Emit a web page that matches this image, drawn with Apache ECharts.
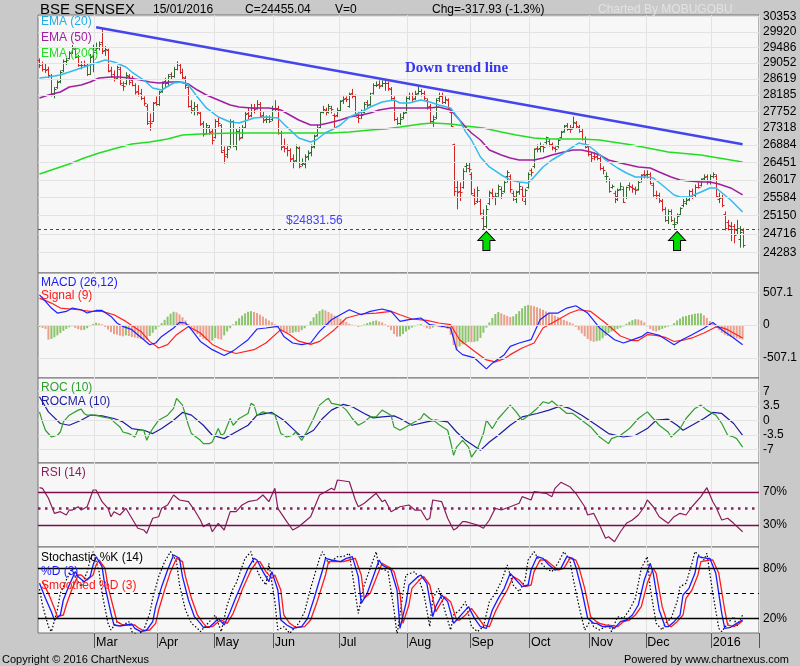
<!DOCTYPE html>
<html><head><meta charset="utf-8">
<script src="https://cdn.jsdelivr.net/npm/echarts/dist/echarts.min.js"></script>
<style>html,body{margin:0;padding:0;background:#c9c9c9;}#c{width:800px;height:666px;}</style>
</head><body><div id="c"></div>
<script>
// ---------- DATA ----------
const barSlots = 242;
const monthStarts = [19, 40, 59, 79, 101, 124, 145, 165, 185, 204, 226];
const monthLabels = ['Mar','Apr','May','Jun','Jul','Aug','Sep','Oct','Nov','Dec','2016'];

// daily bars: [open, high, low, close]
const ohlc = [
[29130,29180,28920,29000],[29040,29090,28820,28883],[28900,29050,28780,28850],[28890,28950,28640,28718],[28700,28750,28150,28227],
[28200,28400,28100,28355],[28400,28580,28350,28533],[28560,28850,28500,28805],[28850,29150,28800,29095],[29100,29200,29000,29135],
[29180,29380,29150,29320],[29350,29550,29300,29463],[29450,29500,29180,29231],[29250,29280,28950,29009],[29000,29100,28880,29004],
[29050,29120,28950,29008],[29000,29040,28700,28747],[28760,29300,28730,29220],[29250,29560,28800,29361],
[29400,29620,29300,29459],[29500,29650,29400,29593],[29640,30024,29300,29380],[29400,29520,29250,29448],[29400,29450,28800,28845],
[28850,28950,28650,28709],[28750,28850,28550,28623],[28650,28980,28600,28930],[28900,28950,28450,28504],[28450,28550,28300,28437],
[28500,28800,28450,28736],[28700,28750,28450,28542],[28600,28700,28420,28468],[28450,28500,28200,28262],[28300,28450,28150,28193],
[28250,28350,28050,28112],[28100,28150,27900,27975],[27900,27950,27400,27458],[27500,27700,27250,27458],[27500,28000,27480,27976],
[28000,28150,27900,27957],
[27960,28300,27900,28260],[28300,28550,28250,28504],[28550,28650,28400,28516],[28500,28750,28420,28707],[28750,28800,28600,28708],
[28700,28950,28650,28879],[28900,29100,28850,29044],[29000,29050,28750,28800],[28800,28900,28600,28666],[28650,28700,28350,28442],
[28400,28420,27850,27887],[27900,28050,27700,27800],[27850,28000,27650,27890],[27900,27950,27650,27735],[27700,27750,27380,27438],
[27450,27500,27100,27176],[27200,27450,27150,27396],[27350,27400,27150,27225],[27250,27300,26900,27011],
[27100,27550,27050,27491],[27500,27600,27350,27440],[27400,27420,26680,26718],[26750,26850,26420,26599],[26650,26850,26550,26790],
[26850,27550,26800,27507],[27500,27520,26830,26877],[26850,27300,26750,27251],[27250,27350,27000,27070],[27100,27400,27050,27324],
[27350,27750,27300,27687],[27700,27850,27550,27646],[27650,27950,27600,27837],[27850,27950,27700,27809],[27850,28050,27800,27957],
[27950,28000,27600,27644],[27650,27750,27450,27531],[27550,27650,27450,27564],[27550,27650,27450,27507],[27550,27900,27500,27828],
[27850,28050,27750,27849],[27850,27900,27150,27188],[27200,27250,26750,26837],[26850,27050,26700,26814],[26800,26900,26600,26768],
[26750,26800,26450,26523],[26550,26650,26300,26481],[26500,26900,26450,26841],[26800,26850,26300,26370],[26400,26550,26350,26425],
[26400,26650,26300,26587],[26600,26750,26500,26687],[26700,26900,26600,26832],[26850,27150,26800,27116],[27150,27400,27100,27316],
[27350,27750,27300,27731],[27750,27900,27700,27805],[27800,27850,27650,27729],[27750,27950,27700,27895],[27850,27900,27700,27812],
[27650,27700,27300,27645],[27650,27850,27600,27781],
[27800,28050,27750,28020],[28050,28150,27950,28092],[28100,28150,28000,28092],[27900,28250,27850,28208],[28250,28350,28100,28171],
[28150,28200,27650,27688],[27600,27750,27450,27573],[27650,27800,27550,27661],[27750,28000,27700,27961],[28000,28050,27850,27933],
[27950,28250,27900,28198],[28250,28500,28200,28446],[28450,28550,28400,28463],[28480,28580,28350,28420],[28450,28580,28400,28504],
[28500,28600,28300,28505],[28500,28550,28300,28371],[28350,28400,28050,28112],[28100,28150,27500,27561],[27550,27600,27400,27459],
[27450,27700,27400,27564],[27600,27750,27550,27705],[27750,28150,27700,28115],
[28100,28250,28050,28187],[28200,28250,28000,28071],[28100,28300,28050,28223],[28250,28420,28200,28298],[28300,28350,28150,28236],
[28250,28300,28050,28101],[28050,28100,27800,27866],[27900,27950,27450,27512],[27500,27650,27350,27549],[27600,28100,27550,28067],
[28100,28250,28000,28159],[28150,28250,27950,28005],[28000,28150,27950,28071],[28050,28100,27800,27832],[27750,27800,27350,27366],
[26900,26920,25620,25742],[25850,26000,25300,25715],[25750,25950,25500,25714],[25850,26300,25800,26231],[26350,26450,26200,26392],
[26300,26450,26200,26283],
[26150,26200,25650,25697],[25650,25800,25400,25453],[25500,25850,25450,25765],[25500,25550,25150,25202],[25100,25300,24830,24894],
[24900,25400,24850,25318],[25450,25750,25400,25719],[25700,25800,25550,25623],[25600,25700,25400,25610],[25700,25900,25600,25856],
[25800,25850,25550,25705],[25750,26000,25700,25964],[26100,26250,25950,26219],[26100,26150,25700,25779],[25700,25750,25500,25616],
[25550,25750,25450,25706],[25750,25950,25650,25864],[25800,25850,25500,25617],[25500,25800,25400,25778],[25850,26200,25800,26155],
[26250,26300,26100,26221],[26350,26800,26300,26777],[26800,26900,26700,26790],[26800,26950,26700,26865],[26850,26900,26700,26846],
[26950,27100,26900,27080],[27000,27050,26850,26906],[26900,26950,26750,26846],[26800,26850,26700,26779],[26850,27050,26800,27010],
[27100,27250,27050,27214],[27250,27400,27200,27364],[27400,27450,27250,27306],[27300,27400,27200,27288],[27350,27620,27300,27471],
[27450,27500,27300,27362],[27350,27400,27200,27253],[27250,27300,27000,27040],[27050,27100,26800,26838],[26850,26900,26600,26657],
[26650,26700,26450,26559],[26600,26700,26500,26590],[26600,26700,26500,26552],[26550,26600,26250,26304],[26300,26350,26150,26265],
[26100,26200,25950,26121],[26000,26050,25700,25743],[25850,25900,25800,25867],[25700,25750,25450,25611],[25550,25800,25500,25760],
[25800,25950,25750,25864],[25800,25850,25450,25482],[25600,25850,25550,25842],[25900,25950,25750,25868],[25850,25900,25700,25819],
[25800,25850,25650,25775],[25800,26000,25750,25959],[26000,26150,25950,26128],[26150,26250,26050,26146],
[26150,26250,26050,26169],[26150,26200,25900,25932],[25900,25950,25600,25638],[25650,25750,25550,25638],[25650,25700,25450,25530],
[25500,25550,25250,25310],[25300,25350,25000,25036],[25050,25300,24950,25252],[25250,25300,25000,25044],[24950,25100,24850,24952],
[25000,25200,24950,25150],[25200,25350,25150,25320],[25400,25550,25350,25494],[25450,25600,25400,25519],[25550,25770,25500,25735],
[25750,25800,25550,25590],[25650,25900,25600,25850],[25850,25950,25800,25839],[25900,26050,25850,26034],[26050,26150,26000,26080],
[26100,26150,25900,25960],[25950,26150,25900,26118],
[26100,26200,26050,26161],[26100,26150,25600,25624],[25550,25700,25450,25580],[25600,25650,25350,25406],[25200,25250,24800,24852],
[25000,25050,24800,24934],[24900,25000,24550,24825],[24900,24950,24500,24683],[24800,25050,24700,24854],[24600,24900,24400,24773],
[24800,24850,24400,24455]
];

// [bar index, value] samples
const ema20 = [[0,28644],[3,28672],[7,28726],[10,28807],[14,28917],[17,28999],[20,29081],[22,29136],[25,29081],[29,28944],[31,28807],[35,28590],[38,28375],[41,28321],[45,28509],[48,28536],[50,28455],[53,28135],[56,27844],[60,27608],[64,27477],[67,27452],[72,27582],[76,27608],[80,27582],[83,27350],[87,27065],[91,26963],[93,27020],[96,27200],[98,27270],[101,27400],[104,27608],[108,27738],[111,27870],[115,28002],[119,28055],[121,27976],[124,27976],[128,28055],[131,28002],[134,27923],[138,27844],[141,27529],[143,27230],[145,27014],[148,26583],[151,26333],[155,26135],[158,26012],[161,25963],[164,25938],[166,26086],[169,26333],[172,26508],[176,26684],[179,26836],[181,26937],[184,26886],[187,26709],[190,26508],[194,26308],[197,26184],[200,26086],[204,26086],[206,26061],[209,25889],[213,25646],[215,25597],[218,25597],[222,25719],[225,25816],[227,25816],[228,25760],[232,25525],[236,25237]];
const ema50 = [[0,28108],[3,28188],[7,28268],[10,28402],[14,28455],[17,28536],[20,28644],[24,28672],[27,28672],[30,28644],[34,28590],[37,28536],[40,28509],[44,28536],[47,28536],[50,28482],[53,28321],[56,28188],[60,28055],[64,27923],[67,27870],[71,27844],[74,27844],[77,27844],[81,27791],[84,27660],[87,27529],[91,27400],[94,27400],[97,27452],[101,27529],[104,27608],[108,27660],[111,27712],[114,27791],[118,27844],[121,27844],[124,27844],[128,27844],[131,27844],[134,27870],[138,27791],[141,27529],[143,27348],[145,27193],[148,27014],[151,26760],[155,26634],[158,26558],[161,26508],[164,26508],[166,26508],[169,26558],[172,26634],[176,26709],[179,26760],[182,26760],[185,26709],[188,26634],[191,26508],[195,26433],[198,26383],[201,26333],[205,26308],[208,26209],[212,26086],[215,26012],[218,25987],[222,25963],[225,25963],[228,25914],[232,25816],[236,25646]];
const ema200 = [[0,26159],[4,26259],[10,26408],[15,26558],[20,26684],[26,26810],[31,26912],[37,26963],[43,27039],[48,27142],[54,27168],[65,27193],[74,27193],[80,27193],[87,27193],[93,27193],[98,27193],[104,27219],[111,27270],[116,27296],[121,27348],[128,27426],[132,27452],[138,27426],[143,27374],[149,27322],[155,27219],[160,27142],[166,27065],[171,27039],[177,27039],[182,27039],[188,27014],[199,26886],[211,26709],[222,26634],[236,26458]];
const trendLine = [[19,30050],[236,26905]];
const supportLevel = 24831.56;
const arrowMarks = [[150,24555],[214,24555]];

const macdLine = [[0,467],[2,364],[4,262],[6,185],[9,210],[11,262],[14,236],[16,185],[19,225],[21,225],[24,133],[26,31],[28,-22],[31,-72],[35,-227],[37,-304],[39,-278],[41,-176],[45,-46],[47,40],[49,31],[51,-72],[54,-253],[58,-381],[62,-470],[65,-400],[70,-227],[73,-62],[76,-46],[80,-22],[82,-176],[85,-278],[88,-304],[91,-278],[94,-99],[98,82],[101,159],[104,236],[108,159],[111,210],[115,247],[118,210],[121,56],[124,82],[128,108],[131,5],[134,-11],[138,-46],[140,-381],[142,-458],[146,-509],[150,-678],[152,-590],[156,-458],[158,-330],[161,-278],[165,-227],[168,82],[171,185],[174,185],[177,262],[180,298],[184,185],[188,-46],[193,-227],[196,-278],[199,-230],[202,-180],[204,-115],[206,-135],[208,-160],[213,-304],[216,-220],[219,-150],[223,-50],[226,40],[229,-72],[233,-200],[236,-304]];
const signalLine = [[0,416],[4,339],[7,262],[13,236],[17,210],[21,210],[25,159],[29,56],[34,-99],[37,-253],[40,-355],[43,-304],[46,-150],[50,-22],[54,-123],[58,-300],[62,-390],[66,-440],[72,-381],[76,-278],[81,-72],[84,-150],[87,-250],[91,-300],[94,-253],[99,-72],[103,108],[108,170],[113,185],[118,210],[121,159],[125,93],[130,71],[134,31],[138,5],[141,-227],[146,-407],[150,-540],[153,-570],[156,-520],[158,-458],[162,-355],[166,-278],[169,-46],[174,82],[178,185],[181,236],[185,210],[190,31],[195,-170],[199,-240],[201,-240],[204,-150],[207,-160],[210,-190],[213,-255],[216,-235],[219,-200],[223,-123],[227,-31],[229,-40],[231,-72],[236,-200]];
const macdHist = [
-30,-45,-60,-225,-215,-190,-160,-125,-90,-60,-35,-20,-45,-65,-80,-75,-50,-20,15,35,
25,10,-30,-70,-110,-140,-150,-165,-175,-160,-170,-185,-195,-205,-215,-225,-230,-170,-120,-70,
-25,30,80,130,175,205,195,165,120,70,20,-40,-95,-140,-185,-215,-235,-245,-240,-200,
-215,-225,-160,-100,-50,10,60,105,145,180,205,215,200,185,160,130,100,70,45,10,
-40,-80,-105,-120,-125,-120,-105,-110,-80,-50,0,60,120,175,215,240,225,200,175,145,
120,95,70,45,20,5,-15,-30,-20,10,30,45,60,70,55,40,10,-30,-80,-140,
-180,-175,-140,-100,-70,-40,-20,5,15,-20,-50,-60,-40,-20,-30,-40,-25,-60,-150,-310,
-390,-330,-300,-280,-260,-265,-260,-250,-200,-120,-40,40,110,170,200,180,160,140,125,135,
170,215,260,295,310,300,290,275,255,235,210,185,165,145,125,100,80,60,40,20,
-30,-80,-130,-175,-215,-245,-260,-250,-240,-205,-165,-125,-100,-80,-60,-40,-20,20,50,75,
90,85,70,40,-20,-60,-90,-100,-80,-60,-40,-25,-10,30,70,100,130,140,155,165,
175,180,182,150,110,60,15,-40,-80,-120,-150,-170,-185,-195,-205,-215,-225
];

const roc = [[0,2.10],[1,-0.34],[2,-2.37],[4,-4.01],[6,-3.59],[7,-2.79],[8,-0.34],[10,1.30],[11,1.71],[13,2.52],[14,2.76],[15,1.71],[16,1.30],[19,1.30],[21,0.88],[24,0.49],[25,-0.34],[27,-1.56],[28,-2.79],[30,-3.18],[32,-4.01],[33,-2.37],[35,-2.37],[36,-4.82],[37,-3.18],[38,-1.96],[40,0.07],[43,1.30],[45,2.93],[46,5.38],[48,3.74],[49,1.30],[50,-1.15],[51,-3.18],[54,-4.82],[55,-5.62],[57,-5.62],[58,-5.23],[60,-1.96],[61,-3.59],[62,-3.18],[64,0.49],[65,-1.15],[67,0.49],[70,1.71],[71,4.16],[72,3.74],[73,1.30],[75,2.10],[77,1.71],[79,1.47],[81,-3.18],[83,-4.01],[85,-3.59],[86,-2.79],[88,-4.82],[90,-2.37],[92,0.49],[94,3.74],[96,4.96],[97,5.38],[98,4.16],[101,3.74],[103,2.52],[105,0.49],[107,-1.15],[109,-0.34],[111,0.88],[113,0.88],[115,2.52],[118,1.30],[119,-1.56],[121,-2.37],[123,-1.56],[125,-0.73],[128,0.49],[129,1.71],[131,0.49],[133,-0.34],[134,-0.98],[137,-2.37],[138,-5.23],[139,-8.48],[140,-6.45],[142,-4.82],[144,-6.45],[145,-8.90],[147,-6.85],[149,-3.18],[150,0.07],[152,-1.96],[154,0.49],[156,2.10],[158,3.74],[160,2.10],[162,0.07],[165,1.71],[167,2.93],[169,4.55],[171,4.16],[172,4.72],[175,2.93],[177,1.71],[179,1.71],[182,0.07],[185,-1.56],[188,-4.01],[191,-5.62],[192,-4.40],[195,-3.59],[198,-1.96],[201,0.49],[204,2.10],[206,0.49],[208,-1.15],[211,-2.79],[212,-4.01],[215,-1.96],[217,0.49],[220,2.93],[222,3.74],[224,2.52],[227,1.30],[229,-0.73],[231,-3.59],[233,-4.01],[234,-4.40],[236,-6.45]];
const rocma = [[0,5.77],[3,2.10],[7,-0.73],[10,-1.15],[14,0.07],[17,1.30],[21,1.12],[25,0.49],[28,-0.34],[31,-1.96],[35,-2.37],[38,-3.18],[41,-1.96],[45,0.07],[48,1.96],[51,1.30],[55,-1.15],[58,-3.59],[62,-4.40],[65,-3.18],[70,-1.15],[73,1.30],[78,1.96],[82,0.07],[85,-1.96],[88,-4.01],[92,-2.37],[95,0.49],[98,2.52],[102,3.91],[105,3.33],[109,1.71],[112,0.64],[115,0.88],[119,1.12],[121,0.49],[125,-1.15],[130,-0.34],[133,0.07],[137,-0.34],[140,-2.79],[143,-4.82],[148,-7.26],[151,-5.23],[154,-3.59],[158,-1.15],[162,0.88],[167,1.71],[171,2.52],[175,3.57],[178,2.93],[182,1.30],[187,-1.15],[191,-3.18],[196,-4.01],[200,-3.59],[204,-1.96],[207,0.07],[211,0.32],[214,-1.15],[216,-2.37],[219,-1.15],[223,0.49],[226,1.96],[229,1.71],[233,-0.73],[236,-3.59]];

const rsi = [[0,75],[1,74.2],[3,62.1],[5,43.9],[7,45.9],[9,41.9],[10,47.9],[11,47.9],[13,51.9],[14,47.9],[16,51.9],[18,72.2],[19,72.2],[21,58],[23,50],[24,39.8],[25,45.9],[27,41.9],[29,50],[31,37.9],[33,25.8],[35,23.7],[36,19.7],[38,37.9],[40,39.8],[41,50],[43,54],[45,66.1],[47,60.1],[50,58],[52,47.9],[54,35.8],[55,27.7],[57,31.8],[58,21.6],[60,31.8],[62,23.7],[64,45.9],[66,45.9],[68,54],[70,58],[73,60.1],[75,66.1],[77,58],[79,74.2],[80,50],[83,33.8],[85,23.7],[87,27.7],[89,33.8],[91,39.8],[94,66.1],[96,70.1],[98,74.2],[99,72.2],[100,84.3],[104,82.2],[106,60.1],[107,51.9],[109,56.1],[113,68.2],[115,58],[116,60.1],[118,45.9],[121,51.9],[124,54],[126,47.9],[128,47.9],[130,35.8],[131,37.9],[132,60.1],[135,58],[137,37.9],[139,23.7],[140,25.8],[142,33.8],[143,33.8],[147,29.8],[149,25.8],[151,35.8],[153,50],[155,47.9],[158,51.9],[161,56.1],[162,64.1],[165,60.1],[166,70.1],[170,68.2],[172,64.1],[173,74.2],[175,81.5],[178,76.2],[180,68.2],[183,51.9],[184,41.9],[186,43.9],[188,29.8],[190,13.6],[191,15.6],[193,9.5],[195,21.6],[197,31.8],[199,35.8],[201,41.9],[203,51.9],[204,60.1],[206,51.9],[208,39.8],[211,31.8],[213,39.8],[215,43.9],[217,41.9],[219,51.9],[222,64.1],[224,75],[226,58],[227,51.9],[229,35.8],[231,37.9],[233,31.8],[236,21.6]];

const stochK = [[0,55],[1,36],[3,10],[4,4],[6,30],[7,50],[9,66],[11,80],[12,70],[14,58],[16,76],[17,90],[18,100],[20,76],[21,50],[23,14],[24,6],[26,16],[28,12],[30,16],[31,4],[33,0],[35,6],[37,26],[38,44],[40,70],[42,88],[44,100],[46,88],[47,60],[49,30],[51,14],[53,8],[54,4],[56,12],[58,20],[59,24],[61,4],[63,36],[65,56],[66,62],[69,92],[71,100],[72,86],[74,70],[76,60],[77,86],[79,40],[80,6],[82,10],[84,2],[87,14],[89,28],[91,56],[94,92],[95,100],[97,86],[100,94],[102,94],[104,98],[106,50],[107,26],[109,60],[111,80],[113,100],[114,80],[116,78],[117,76],[119,30],[120,0],[122,50],[123,72],[126,76],[127,70],[129,50],[131,10],[132,44],[134,56],[136,30],[138,6],[139,24],[141,30],[143,40],[145,10],[147,4],[149,10],[151,40],[153,50],[155,64],[157,84],[159,60],[161,52],[163,66],[164,90],[166,100],[168,88],[170,80],[172,76],[174,86],[176,100],[178,90],[179,70],[181,36],[183,6],[185,18],[186,10],[188,6],[191,12],[192,4],[194,22],[196,20],[198,30],[200,44],[202,80],[204,94],[205,56],[207,14],[209,6],[210,14],[212,20],[214,40],[215,58],[217,62],[219,86],[220,100],[223,90],[224,98],[226,50],[228,8],[229,4],[231,14],[233,22],[234,10],[236,24]];
const stochD = [[0,62],[2,44],[4,28],[5,18],[7,24],[8,42],[10,60],[12,76],[13,70],[15,64],[17,70],[18,84],[19,94],[21,82],[22,58],[24,26],[25,12],[27,10.8],[29,12],[31,13.2],[32,8],[34,4],[36,6],[38,16],[39,34],[41,58],[43,78],[45,96],[47,92],[48,70],[50,42],[52,22],[54,14],[55,9.2],[57,9.2],[59,16],[60,20],[62,12],[64,28],[66,46],[67,54],[70,80],[72,92],[73,90],[75,76],[77,64],[78,76],[80,54],[81,18],[83,12],[85,8],[88,10],[90,20],[92,42],[95,78],[96,92],[98,90],[101,88],[103,92],[105,94],[107,70],[108,38],[110,50],[112,70],[114,90],[115,84],[117,80],[118,78],[120,54],[121,8],[123,38],[124,60],[127,70],[128,72],[130,62],[132,22],[133,34],[135,48],[137,40],[139,14],[140,18],[142,26],[144,34],[146,20],[148,10],[150,8],[152,30],[154,44],[156,56],[158,74],[160,66],[162,58],[164,60],[165,78],[167,94],[169,92],[171,84],[173,78],[175,80],[177,94],[179,92],[180,82],[182,54],[184,20],[186,14],[187,14],[189,10],[192,10],[193,8],[195,16],[197,18],[199,24],[201,36],[203,66],[205,86],[206,74],[208,30],[210,10],[211,10],[213,16],[215,24],[216,48],[218,56],[220,74],[221,94],[224,92],[225,92],[227,74],[229,26],[230,8],[232,9.2],[234,14],[236,18]];
const stochSD = [[1,64],[3,50],[5,32],[6,22],[8,24],[9,36],[11,56],[13,72],[14,72],[16,66],[18,72],[19,84],[20,90],[22,80],[23,58],[25,30],[26,16],[28,12],[30,12],[32,12],[33,9],[35,5],[37,6],[39,14],[40,30],[42,54],[44,76],[46,92],[48,88],[49,70],[51,44],[53,24],[55,14],[56,10],[58,10],[60,16],[61,18],[63,14],[65,26],[67,44],[68,54],[71,78],[73,88],[74,88],[76,76],[78,68],[79,72],[81,54],[82,24],[84,14],[86,9],[89,10],[91,18],[93,38],[96,72],[97,88],[99,88],[102,88],[104,90],[106,92],[108,72],[109,44],[111,50],[113,68],[115,86],[116,84],[118,80],[119,76],[121,50],[122,14],[124,36],[125,56],[128,68],[129,70],[131,60],[133,28],[134,34],[136,46],[138,40],[140,18],[141,18],[143,24],[145,32],[147,22],[149,12],[151,10],[153,28],[155,42],[157,54],[159,70],[161,66],[163,58],[165,60],[166,76],[168,90],[170,90],[172,84],[174,78],[176,80],[178,92],[180,90],[181,82],[183,56],[185,22],[187,16],[188,14],[190,12],[193,11],[194,10],[196,16],[198,18],[200,24],[202,34],[204,62],[206,80],[207,74],[209,34],[211,12],[212,10],[214,16],[216,24],[217,44],[219,54],[221,72],[222,88],[225,90],[226,90],[228,74],[230,30],[231,12],[233,10],[235,14],[236,17]];

// axis tick values and their labels
const priceTickValues = [24282.7,24716.3,25149.9,25583.5,26017.1,26450.7,26884.3,27317.9,27751.5,28185.1,28618.7,29052.3,29485.9,29919.5,30353.1];
const priceTickLabels = ['24283','24716','25150','25584','26017','26451','26884','27318','27752','28185','28619','29052','29486','29920','30353'];
const volTickValues = [24282.7,24716.3,25149.9,25583.5,26017.1,26450.7];
const volTickLabels = ['0.2','0.3','0.5','0.6','0.8','1.0'];
const macdTicks = [507.1, 0, -507.1];
const macdTickLabels = ['507.1','0','-507.1'];
const rocTicks = [7, 3.5, 0, -3.5, -7];
const rocTickLabels = ['7','3.5','0','-3.5','-7'];
const rsiLevels = [70, 30];
const rsiLevelLabels = ['70%','30%'];
const stochLevels = [80, 20];
const stochLevelLabels = ['80%','20%'];

// ---------- CHART ----------
const FONT = '"Liberation Sans", Arial, sans-serif';
const GREEN = '#2f6a2f', RED = '#d42424';
const GRIDC = '#e3e3e3';
const chart = echarts.init(document.getElementById('c'), null, {renderer: 'canvas'});
const categories = Array.from({length: barSlots}, (_, i) => String(i));
const isMonth = (i) => monthStarts.indexOf(i) >= 0;

const grids = [
  {top: 15, height: 258}, {top: 273, height: 105}, {top: 378, height: 85},
  {top: 463, height: 84}, {top: 547, height: 86}
].map(g => Object.assign({left: 38, right: 41, show: true, backgroundColor: '#f7f7f7', borderColor: '#707070', borderWidth: 1}, g));

const xAxes = grids.map((g, k) => ({
  type: 'category', gridIndex: k, data: categories, boundaryGap: true,
  axisLine: {show: false},
  axisTick: k === 4 ? {show: true, interval: (i) => isMonth(i), length: 15, lineStyle: {color: '#555'}} : {show: false},
  axisLabel: k === 4 ? {show: true, interval: (i) => isMonth(i), align: 'left', margin: 3, fontSize: 12.5, color: '#000', fontFamily: FONT,
    formatter: (v, i) => { const m = monthStarts.indexOf(Number(v)); return m >= 0 ? monthLabels[m] : ''; }} : {show: false},
  splitLine: {show: true, interval: (i) => isMonth(i), lineStyle: {color: GRIDC, width: 1}}
}));

const hidden = {axisLine: {show: false}, axisTick: {show: false}, axisLabel: {show: false}, splitLine: {show: false}};
const yAxes = [
  Object.assign({type: 'log', logBase: 10, gridIndex: 0, min: 23822, max: 30402}, hidden),
  Object.assign({type: 'value', gridIndex: 1, min: -819, max: 804}, hidden),
  Object.assign({type: 'value', gridIndex: 2, min: -10.33, max: 10.33}, hidden),
  Object.assign({type: 'value', gridIndex: 3, min: 3.1, max: 104.9}, hidden),
  Object.assign({type: 'value', gridIndex: 4, min: 2.4, max: 105.6}, hidden)
];

const lblStyle = {color: '#000', fontSize: 12, fontFamily: FONT};
function levelLines(values, labels, lineStyle, position) {
  return values.map((v, k) => ({
    yAxis: v, lineStyle: lineStyle,
    label: labels ? Object.assign({show: true, position: position || 'end', distance: 4, formatter: labels[k]}, lblStyle) : {show: false}
  }));
}
function guideSeries(k, data, z) {
  return {type: 'line', xAxisIndex: k, yAxisIndex: k, data: [], z: z || 1, silent: true,
    markLine: {silent: true, symbol: ['none', 'none'], animation: false, data: data}};
}
function lineSeries(k, data, color, width, extra) {
  return Object.assign({type: 'line', xAxisIndex: k, yAxisIndex: k, data: data, showSymbol: false, symbol: 'none',
    smooth: false, silent: true, z: 3, lineStyle: {color: color, width: width}}, extra || {});
}

function renderOHLC(params, api) {
  const i = api.value(0);
  const pO = api.coord([i, api.value(1)]);
  const pH = api.coord([i, api.value(2)]);
  const pL = api.coord([i, api.value(3)]);
  const pC = api.coord([i, api.value(4)]);
  const x = Math.round(pO[0]) + 0.5;
  const yo = Math.round(pO[1]) + 0.5, yc = Math.round(pC[1]) + 0.5;
  const st = {stroke: api.value(4) >= api.value(1) ? GREEN : RED, lineWidth: 1};
  return {type: 'group', children: [
    {type: 'line', shape: {x1: x, y1: pH[1], x2: x, y2: pL[1]}, style: st},
    {type: 'line', shape: {x1: x - 2, y1: yo, x2: x, y2: yo}, style: st},
    {type: 'line', shape: {x1: x, y1: yc, x2: x + 2, y2: yc}, style: st}
  ]};
}

const series = [
  guideSeries(0, levelLines(priceTickValues, priceTickLabels, {color: GRIDC, width: 1, type: 'solid'}, 'end')
      .concat(levelLines(volTickValues, volTickLabels, {opacity: 0}, 'start'))),
  {type: 'custom', xAxisIndex: 0, yAxisIndex: 0, z: 2, silent: true, renderItem: renderOHLC,
    encode: {x: 0, y: [1, 2, 3, 4]}, data: ohlc.map((r, i) => [i, r[0], r[1], r[2], r[3]])},
  lineSeries(0, ema200, '#22dd22', 1.5),
  lineSeries(0, ema50, '#a01fa0', 1.5),
  lineSeries(0, ema20, '#33bbee', 1.5),
  guideSeries(0, [{yAxis: supportLevel, lineStyle: {color: '#3030ff', width: 1, type: [3, 3]}, label: {show: false}}], 4),
  lineSeries(0, trendLine, '#4545ee', 2.5, {z: 5}),
  {type: 'scatter', xAxisIndex: 0, yAxisIndex: 0, z: 6, silent: true, data: arrowMarks,
    symbol: 'path://M8.5,0 L17,9 L12,9 L12,19 L5,19 L5,9 L0,9 Z', symbolSize: [17, 19], symbolKeepAspect: false,
    itemStyle: {color: '#00dd00', borderColor: '#000', borderWidth: 1, opacity: 1}},

  guideSeries(1, levelLines(macdTicks, macdTickLabels, {color: GRIDC, width: 1, type: 'solid'}, 'end')),
  {type: 'bar', xAxisIndex: 1, yAxisIndex: 1, data: macdHist, barWidth: 2, z: 2, silent: true,
    itemStyle: {color: (p) => (p.dataIndex > 0 && macdHist[p.dataIndex] < macdHist[p.dataIndex - 1]) ? '#e9a08c' : '#8cc46c'}},
  lineSeries(1, signalLine, '#ff2020', 1.2),
  lineSeries(1, macdLine, '#2020ff', 1.2),

  guideSeries(2, levelLines(rocTicks, rocTickLabels, {color: GRIDC, width: 1, type: 'solid'}, 'end')),
  lineSeries(2, rocma, '#1c1ca0', 1.2),
  lineSeries(2, roc, '#2e9e2e', 1.2),

  guideSeries(3, levelLines(rsiLevels, rsiLevelLabels, {color: '#7a0d4c', width: 1.3, type: 'solid'}, 'end')
      .concat([{yAxis: 50, lineStyle: {color: '#8a2060', width: 2.5, type: [2.5, 4.5]}, label: {show: false}}])),
  lineSeries(3, rsi, '#8a1c5a', 1.2),

  guideSeries(4, levelLines(stochLevels, stochLevelLabels, {color: '#000', width: 1.3, type: 'solid'}, 'end')
      .concat([{yAxis: 50, lineStyle: {color: '#000', width: 1, type: [4, 4]}, label: {show: false}}])),
  lineSeries(4, stochK, '#000', 1.2, {lineStyle: {color: '#000', width: 1.2, type: [1.5, 2]}}),
  lineSeries(4, stochSD, '#ff1a1a', 1.3),
  lineSeries(4, stochD, '#1a1aff', 1.3)
];

function txt(x, y, s, fill, size, extra) {
  return {type: 'text', x: x, y: y, silent: true, z: 100,
    style: Object.assign({text: s, fill: fill, font: size + 'px ' + FONT, verticalAlign: 'middle', align: 'left'}, extra || {})};
}
const graphic = [
  txt(40, 10, 'BSE SENSEX', '#000', 15),
  txt(153, 10, '15/01/2016', '#000', 12),
  txt(245, 10, 'C=24455.04', '#000', 12),
  txt(335, 10, 'V=0', '#000', 12),
  txt(432, 10, 'Chg=-317.93 (-1.3%)', '#000', 12),
  txt(598, 10, 'Charted By MOBUGOBU', '#e2e2e2', 12),
  txt(41, 22, 'EMA (20)', '#22aee6', 12),
  txt(41, 38, 'EMA (50)', '#a01fa0', 12),
  txt(41, 54, 'EMA (200)', '#22dd22', 12),
  txt(405, 68, 'Down trend line', '#3535f0', 15, {font: 'bold 15px "Liberation Serif", "Times New Roman", serif'}),
  txt(286, 221, '$24831.56', '#4040ff', 12),
  txt(41, 283, 'MACD (26,12)', '#1a1aff', 12),
  txt(41, 296, 'Signal (9)', '#ff1a1a', 12),
  txt(41, 388, 'ROC (10)', '#2e9e2e', 12),
  txt(41, 402, 'ROCMA (10)', '#1c1ca0', 12),
  txt(41, 473, 'RSI (14)', '#8a1c5a', 12),
  txt(41, 558, 'Stochastic %K (14)', '#000', 12),
  txt(41, 572, '%D (3)', '#1a1aff', 12),
  txt(41, 586, 'Smoothed %D (3)', '#ff1a1a', 12),
  txt(2, 660, 'Copyright \u00a9 2016 ChartNexus', '#000', 11),
  txt(789, 660, 'Powered by www.chartnexus.com', '#000', 11, {align: 'right'})
];

chart.setOption({
  animation: false,
  backgroundColor: '#c9c9c9',
  textStyle: {fontFamily: FONT},
  grid: grids, xAxis: xAxes, yAxis: yAxes, series: series, graphic: graphic,
  tooltip: {show: false}
});
</script></body></html>
